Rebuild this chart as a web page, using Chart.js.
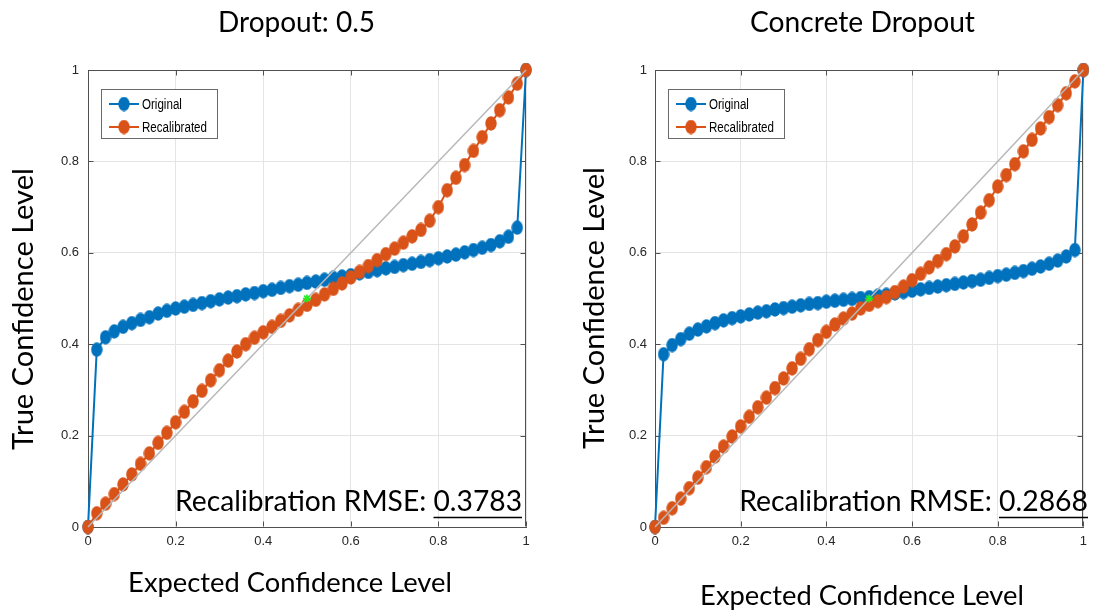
<!DOCTYPE html>
<html>
<head>
<meta charset="utf-8">
<script src="https://cdn.jsdelivr.net/npm/chart.js@4.4.1/dist/chart.umd.min.js"></script>
<style>
  html, body { margin: 0; padding: 0; background: #fff; overflow: hidden; }
  #wrap { position: relative; width: 1094px; height: 610px; }
  #wrap canvas { position: absolute; top: 0; display: block; }
  #c1 { left: 0; }
  #c2 { left: 560px; }
</style>
</head>
<body>
<div id="wrap">
  <canvas id="c1" width="560" height="610"></canvas>
  <canvas id="c2" width="534" height="610"></canvas>
</div>
<script>
// ---- data -------------------------------------------------------------
const expected = [0, 0.02, 0.04, 0.06, 0.08, 0.1, 0.12, 0.14, 0.16, 0.18,
  0.2, 0.22, 0.24, 0.26, 0.28, 0.3, 0.32, 0.34, 0.36, 0.38,
  0.4, 0.42, 0.44, 0.46, 0.48, 0.5, 0.52, 0.54, 0.56, 0.58,
  0.6, 0.62, 0.64, 0.66, 0.68, 0.7, 0.72, 0.74, 0.76, 0.78,
  0.8, 0.82, 0.84, 0.86, 0.88, 0.9, 0.92, 0.94, 0.96, 0.98, 1];

// Dropout 0.5
const dropoutOriginal = [0, 0.388, 0.415, 0.428, 0.438, 0.446, 0.453, 0.459, 0.467, 0.473,
  0.478, 0.482, 0.486, 0.490, 0.494, 0.498, 0.502, 0.505, 0.509, 0.512,
  0.516, 0.519, 0.523, 0.527, 0.530, 0.534, 0.537, 0.541, 0.545, 0.548,
  0.551, 0.555, 0.558, 0.562, 0.566, 0.569, 0.573, 0.576, 0.580, 0.584,
  0.588, 0.592, 0.596, 0.601, 0.606, 0.611, 0.617, 0.625, 0.635, 0.655, 1];
const dropoutRecalibrated = [0, 0.030, 0.051, 0.072, 0.093, 0.115, 0.138, 0.161, 0.184, 0.206,
  0.229, 0.252, 0.275, 0.298, 0.321, 0.343, 0.364, 0.384, 0.400, 0.414,
  0.426, 0.438, 0.451, 0.463, 0.475, 0.486, 0.497, 0.509, 0.521, 0.533,
  0.546, 0.558, 0.571, 0.584, 0.597, 0.609, 0.622, 0.636, 0.650, 0.670,
  0.700, 0.737, 0.764, 0.792, 0.823, 0.853, 0.883, 0.912, 0.940, 0.970, 1];

// Concrete Dropout
const concreteOriginal = [0, 0.378, 0.398, 0.411, 0.423, 0.432, 0.439, 0.446, 0.452, 0.457,
  0.461, 0.465, 0.469, 0.472, 0.476, 0.479, 0.482, 0.485, 0.488, 0.490,
  0.493, 0.495, 0.497, 0.499, 0.501, 0.503, 0.506, 0.508, 0.511, 0.514,
  0.517, 0.520, 0.523, 0.526, 0.529, 0.532, 0.535, 0.538, 0.541, 0.545,
  0.549, 0.552, 0.556, 0.560, 0.565, 0.570, 0.576, 0.583, 0.592, 0.606, 1];
const concreteRecalibrated = [0, 0.020, 0.041, 0.062, 0.085, 0.108, 0.131, 0.154, 0.176, 0.198,
  0.220, 0.241, 0.262, 0.283, 0.304, 0.325, 0.347, 0.368, 0.389, 0.409,
  0.427, 0.443, 0.456, 0.467, 0.478, 0.486, 0.494, 0.503, 0.514, 0.526,
  0.540, 0.554, 0.568, 0.582, 0.597, 0.614, 0.636, 0.662, 0.688, 0.715,
  0.745, 0.770, 0.794, 0.822, 0.847, 0.872, 0.897, 0.923, 0.949, 0.975, 1];

// perfect calibration reference and its midpoint
const diagonalX = [0, 1];
const diagonalY = [0, 1];
const midpointX = [0.5];
const midpointY = [0.5];

const tickValues = [0, 0.2, 0.4, 0.6, 0.8, 1];
const tickLabels = ['0', '0.2', '0.4', '0.6', '0.8', '1'];

const seriesNames = ['Original', 'Recalibrated'];
const chartTitles = ['Dropout: 0.5', 'Concrete Dropout'];
const rmseValues = ['0.3783', '0.2868'];
const xAxisTitle = 'Expected Confidence Level';
const yAxisTitle = 'True Confidence Level';
const rmsePrefix = 'Recalibration RMSE: ';

// ---- styling ----------------------------------------------------------
const BLUE = '#0072BD';
const ORANGE = '#D95319';
const AXIS = '#505050';
const GRID = '#e4e4e4';
const BIG_FONT = 'Lato, "Open Sans", sans-serif';
const SMALL_FONT = '"Liberation Sans", Arial, sans-serif';

function ellipseMarker(color) {
  const c = document.createElement('canvas');
  c.width = 12; c.height = 15;
  const g = c.getContext('2d');
  g.fillStyle = color;
  g.beginPath();
  g.ellipse(6, 7.5, 5.7, 7.2, 0, 0, Math.PI * 2);
  g.fill();
  return c;
}
const blueDot = ellipseMarker(BLUE);
const orangeDot = ellipseMarker(ORANGE);

function toPoints(xs, ys) { return xs.map((x, i) => ({ x: x, y: ys[i] })); }

function fitSize(ctx, text, family, width) {
  ctx.font = '100px ' + family;
  return 100 * width / ctx.measureText(text).width;
}

// box, inward ticks, legend and annotation text
const framePlugin = {
  id: 'frame',
  beforeDatasetsDraw(chart) {
    const { ctx, chartArea: a, scales } = chart;
    ctx.save();
    ctx.strokeStyle = AXIS;
    ctx.lineWidth = 1;
    const t = Math.round(a.top) + 0.5, r = Math.round(a.right) - 0.5;
    const b = Math.round(a.bottom) - 0.5, l = Math.round(a.left) + 0.5;
    ctx.beginPath();
    ctx.moveTo(l, t); ctx.lineTo(r, t); ctx.lineTo(r, b);
    tickValues.forEach(v => {
      const x = Math.round(scales.x.getPixelForValue(v)) + 0.5;
      ctx.moveTo(x, b); ctx.lineTo(x, b - 5);
      ctx.moveTo(x, t); ctx.lineTo(x, t + 5);
      const y = Math.round(scales.y.getPixelForValue(v)) + 0.5;
      ctx.moveTo(l, y); ctx.lineTo(l + 5, y);
      ctx.moveTo(r, y); ctx.lineTo(r - 5, y);
    });
    ctx.stroke();
    ctx.restore();
  },
  afterDraw(chart, args, opts) {
    const { ctx, chartArea: a } = chart;
    ctx.save();

    // legend
    const lx = Math.round(a.left) + 13, ly = Math.round(a.top) + 19;
    ctx.fillStyle = '#fff';
    ctx.fillRect(lx, ly, 116, 49);
    ctx.strokeStyle = '#6a6a6a';
    ctx.lineWidth = 1;
    ctx.strokeRect(lx + 0.5, ly + 0.5, 116, 49);
    ctx.font = '14px ' + SMALL_FONT;
    const squeeze = 65 / ctx.measureText(seriesNames[1]).width;
    [0, 1].forEach((k, row) => {
      const ds = chart.data.datasets[k];
      const y = ly + 15 + row * 23;
      ctx.strokeStyle = ds.borderColor;
      ctx.lineWidth = 2;
      ctx.beginPath(); ctx.moveTo(lx + 8, y); ctx.lineTo(lx + 38, y); ctx.stroke();
      ctx.drawImage(ds.pointStyle, lx + 23 - 6, y - 7.5);
      ctx.save();
      ctx.translate(lx + 41, y + 1);
      ctx.scale(squeeze, 1);
      ctx.fillStyle = '#000';
      ctx.textAlign = 'left';
      ctx.textBaseline = 'middle';
      ctx.fillText(ds.label, 0, 0);
      ctx.restore();
    });

    ctx.fillStyle = '#000';
    ctx.textBaseline = 'alphabetic';

    // title
    ctx.textAlign = 'center';
    ctx.font = fitSize(ctx, opts.title, BIG_FONT, opts.titleW) + 'px ' + BIG_FONT;
    ctx.fillText(opts.title, opts.titleX, opts.titleBase);

    // x axis title
    ctx.font = fitSize(ctx, xAxisTitle, BIG_FONT, opts.xTitleW) + 'px ' + BIG_FONT;
    ctx.fillText(xAxisTitle, opts.xTitleX, opts.xTitleBase);

    // y axis title
    ctx.save();
    ctx.translate(opts.yTitleBase, opts.yTitleY);
    ctx.rotate(-Math.PI / 2);
    ctx.font = fitSize(ctx, yAxisTitle, BIG_FONT, opts.yTitleW) + 'px ' + BIG_FONT;
    ctx.fillText(yAxisTitle, 0, 0);
    ctx.restore();

    // RMSE annotation with underlined value
    const full = rmsePrefix + opts.rmse;
    ctx.font = fitSize(ctx, full, BIG_FONT, opts.rmseW) + 'px ' + BIG_FONT;
    ctx.textAlign = 'left';
    const wFull = ctx.measureText(full).width;
    const wVal = ctx.measureText(opts.rmse).width;
    const x0 = opts.rmseRight - wFull;
    ctx.fillText(full, x0, opts.rmseBase);
    ctx.strokeStyle = '#000';
    ctx.lineWidth = 1.5;
    ctx.beginPath();
    ctx.moveTo(opts.rmseRight - wVal, opts.rmseBase + 6.5);
    ctx.lineTo(opts.rmseRight, opts.rmseBase + 6.5);
    ctx.stroke();

    ctx.restore();
  }
};

function makeChart(id, original, recalibrated, layout) {
  return new Chart(document.getElementById(id), {
    type: 'line',
    data: {
      datasets: [
        { label: seriesNames[0], data: toPoints(expected, original), borderColor: BLUE, backgroundColor: BLUE,
          borderWidth: 2, pointStyle: blueDot, pointRadius: 6, order: 3, clip: false },
        { label: seriesNames[1], data: toPoints(expected, recalibrated), borderColor: ORANGE, backgroundColor: ORANGE,
          borderWidth: 2, pointStyle: orangeDot, pointRadius: 6, order: 2, clip: false },
        { label: 'ideal', data: toPoints(diagonalX, diagonalY), borderColor: '#b8b8b8', borderWidth: 1.5,
          pointRadius: 0, order: 1, clip: false },
        { label: 'midpoint', data: toPoints(midpointX, midpointY), showLine: false, pointStyle: 'star',
          pointRadius: 4, borderColor: '#22ee22', backgroundColor: '#22ee22', borderWidth: 1.6, order: 0, clip: false }
      ]
    },
    options: {
      responsive: false,
      animation: false,
      events: [],
      layout: { padding: { top: 70, left: 0, bottom: 0, right: layout.padRight } },
      plugins: {
        legend: { display: false },
        tooltip: { enabled: false },
        title: { display: false },
        frame: layout
      },
      scales: {
        x: {
          type: 'linear', min: 0, max: 1,
          afterBuildTicks: s => { s.ticks = tickValues.map(v => ({ value: v })); },
          afterFit: s => { s.height = 83; },
          ticks: {
            callback: (v, i) => tickLabels[i],
            font: { family: SMALL_FONT, size: 13 }, color: '#262626',
            padding: 7, maxRotation: 0, autoSkip: false
          },
          grid: { color: GRID, lineWidth: 1, drawTicks: false },
          border: { color: AXIS, width: 1 }
        },
        y: {
          type: 'linear', min: 0, max: 1,
          afterBuildTicks: s => { s.ticks = tickValues.map(v => ({ value: v })); },
          afterFit: s => { s.width = layout.yWidth; },
          ticks: {
            callback: (v, i) => tickLabels[i],
            font: { family: SMALL_FONT, size: 13 }, color: '#262626',
            padding: layout.yPad, autoSkip: false
          },
          grid: { color: GRID, lineWidth: 1, drawTicks: false },
          border: { color: AXIS, width: 1 }
        }
      }
    },
    plugins: [framePlugin]
  });
}

makeChart('c1', dropoutOriginal, dropoutRecalibrated, {
  padRight: 34, yWidth: 88, yPad: 9,
  title: chartTitles[0], titleX: 296.5, titleBase: 32, titleW: 157,
  xTitleX: 290, xTitleBase: 592, xTitleW: 324,
  yTitleBase: 33, yTitleY: 309, yTitleW: 282,
  rmse: rmseValues[0], rmseRight: 522, rmseBase: 511, rmseW: 347
});

makeChart('c2', concreteOriginal, concreteRecalibrated, {
  padRight: 2, yWidth: 95, yPad: 8,
  title: chartTitles[1], titleX: 302.5, titleBase: 32, titleW: 225,
  xTitleX: 302, xTitleBase: 605, xTitleW: 324,
  yTitleBase: 44, yTitleY: 308, yTitleW: 282,
  rmse: rmseValues[1], rmseRight: 528, rmseBase: 511, rmseW: 349
});
</script>
</body>
</html>
